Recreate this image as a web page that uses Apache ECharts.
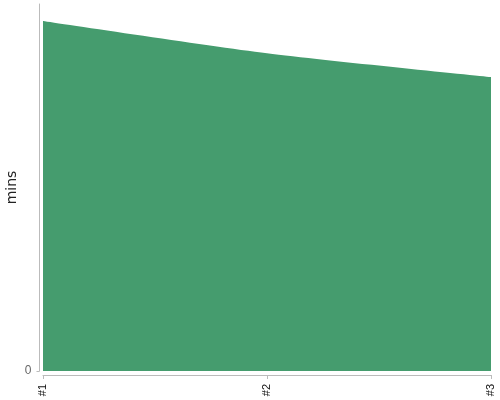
<!DOCTYPE html>
<html><head><meta charset="utf-8">
<script src="https://cdn.jsdelivr.net/npm/echarts@6/dist/echarts.min.js"></script>
<style>html,body{margin:0;padding:0;background:#fff}#c{width:500px;height:400px}</style>
</head><body><div id="c"></div>
<script>
const categories = ['#1', '#2', '#3'];
const minsValues = [95.4, 86.6, 80.1];
const yTickValues = [0];

const chart = echarts.init(document.getElementById('c'), null, {renderer: 'canvas'});
chart.setOption({
  animation: false,
  grid: {left: 43, right: 9, top: 4, bottom: 29, containLabel: false, outerBoundsMode: 'none'},
  xAxis: {
    type: 'category',
    data: categories,
    boundaryGap: false,
    offset: 4,
    axisLine: {onZero: false, lineStyle: {color: '#bbb', width: 1}},
    axisTick: {lineStyle: {color: '#bbb'}, length: 4, alignWithLabel: true},
    axisLabel: {rotate: 90, color: '#111', fontSize: 11, fontFamily: 'Liberation Sans', margin: 9}
  },
  yAxis: {
    type: 'value',
    min: 0, max: 100,
    offset: 3.5,
    name: 'mins',
    nameLocation: 'middle',
    nameGap: 20,
    nameMoveOverlap: false,
    nameTextStyle: {color: '#222', fontSize: 14, fontFamily: 'DejaVu Sans'},
    axisLine: {show: true, lineStyle: {color: '#bbb', width: 1}},
    axisTick: {show: true, length: 3, lineStyle: {color: '#bbb'}, customValues: yTickValues},
    axisLabel: {color: '#666', fontSize: 12, fontFamily: 'Liberation Sans', margin: 8, customValues: yTickValues},
    splitLine: {show: false}
  },
  series: [{
    type: 'line',
    data: minsValues,
    smooth: 0.25,
    symbol: 'none',
    lineStyle: {width: 0, color: '#459c6e'},
    itemStyle: {color: '#459c6e'},
    areaStyle: {color: '#459c6e', opacity: 1}
  }]
});
</script></body></html>
